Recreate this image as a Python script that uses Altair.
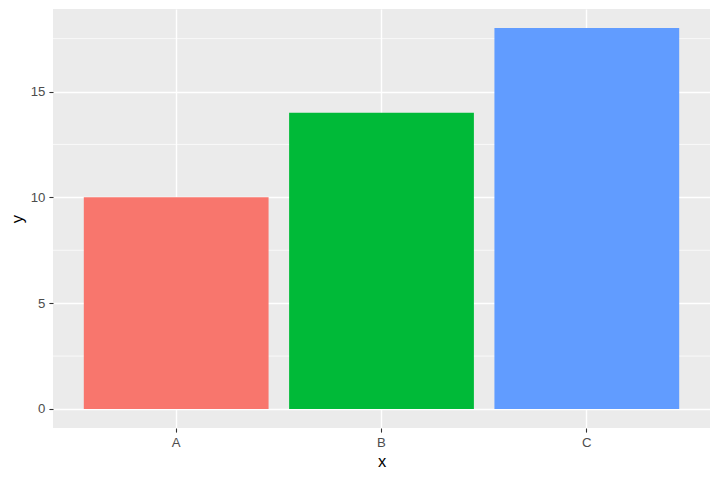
import altair as alt
import pandas as pd

categories = ["A", "B", "C"]
values = [10, 14, 18]
colors = ["#F8766D", "#00BA38", "#619CFF"]
y_major = [0, 5, 10, 15]
y_minor = [2.5, 7.5, 12.5, 17.5]

df = pd.DataFrame({"x": categories, "y": values})
minor_df = pd.DataFrame({"v": y_minor})

FONT = "Liberation Sans"
LABEL_SIZE = 13.2
TITLE_SIZE = 16.5

yscale = alt.Scale(domain=[-0.9, 18.9], nice=False, zero=False)
xscale = alt.Scale(paddingInner=0.1, paddingOuter=0.15)

common_axis = dict(
    grid=True,
    gridColor="white",
    gridWidth=1.4,
    domain=False,
    tickColor="#333333",
    tickSize=4.1,
    tickWidth=1.1,
    labelColor="#4D4D4D",
    labelFontSize=LABEL_SIZE,
    labelFont=FONT,
    titleFont=FONT,
    titleFontSize=TITLE_SIZE,
    titleFontWeight="normal",
    titleColor="black",
)

minor = alt.Chart(minor_df).mark_rule(color="white", strokeWidth=0.7).encode(
    y=alt.Y("v:Q", scale=yscale)
)

bars = alt.Chart(df).mark_bar().encode(
    x=alt.X(
        "x:N",
        scale=xscale,
        title="x",
        axis=alt.Axis(labelAngle=0, bandPosition=0.5, labelPadding=4.5, titlePadding=5, **common_axis),
    ),
    y=alt.Y(
        "y:Q",
        scale=yscale,
        title="y",
        axis=alt.Axis(values=y_major, labelPadding=4, titlePadding=5, **common_axis),
    ),
    color=alt.Color("x:N", scale=alt.Scale(domain=categories, range=colors), legend=None),
)

chart = (
    alt.layer(minor, bars)
    .properties(
        width=657,
        height=419,
        autosize=alt.AutoSizeParams(type="none"),
        padding={"left": 45, "top": 1, "right": 0, "bottom": 50},
        view=alt.ViewBackground(fill="#EBEBEB", strokeWidth=0),
        background="white",
    )
)

chart.save("out.html", embed_options={"renderer": "svg", "actions": False})
